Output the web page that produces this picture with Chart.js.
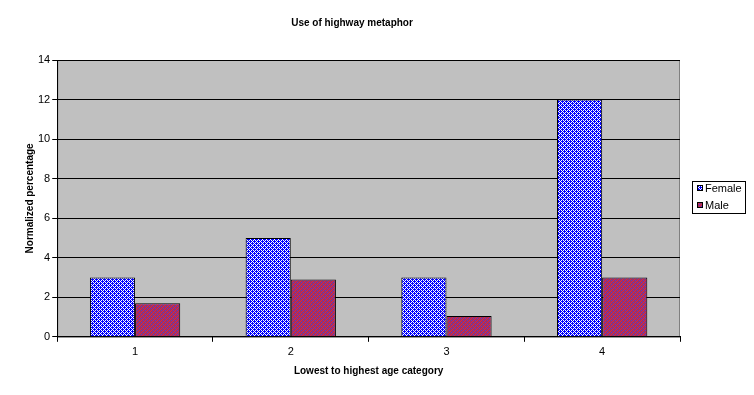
<!DOCTYPE html>
<html>
<head>
<meta charset="utf-8">
<script src="https://cdn.jsdelivr.net/npm/chart.js@4"></script>
<style>
  html, body { margin: 0; padding: 0; background: #fff; }
  #wrap { width: 754px; height: 395px; }
</style>
</head>
<body>
<div id="wrap"><canvas id="chart" width="754" height="395"></canvas></div>
<script>
const categories = ['1', '2', '3', '4'];
const femaleValues = [3, 5, 3, 12];
const maleValues = [1.7, 2.9, 1.05, 3];

const FONT = 'Liberation Sans, Arial, sans-serif';

// small tiles that imitate the old dithered fills
function makePattern(rows, colors) {
    const c = document.createElement('canvas');
    c.width = rows[0].length;
    c.height = rows.length;
    const g = c.getContext('2d');
    rows.forEach((row, y) => {
        for (let x = 0; x < row.length; x++) {
            g.fillStyle = colors[row[x]];
            g.fillRect(x, y, 1, 1);
        }
    });
    return g.createPattern(c, 'repeat');
}

const femaleFill = makePattern(
    ['bwbw', 'wbbb', 'bwbw', 'bbwb'],
    { b: '#0000ff', w: '#ffffff' }
);
const maleFill = makePattern(
    ['mrmb', 'rmmm', 'mbmr', 'mmrm'],
    { m: '#993366', r: '#dd2244', b: '#6633cc' }
);

const plotBackground = {
    id: 'plotBackground',
    beforeDraw(chart) {
        const { ctx, chartArea: a } = chart;
        ctx.save();
        ctx.fillStyle = '#c0c0c0';
        ctx.fillRect(a.left, a.top, a.right - a.left, a.bottom - a.top);
        ctx.strokeStyle = '#808080';
        ctx.lineWidth = 1;
        ctx.strokeRect(a.left + 0.5, a.top + 0.5, a.right - a.left - 1, a.bottom - a.top);
        ctx.restore();
    }
};

// boxed legend on the right, like the spreadsheet original
const boxedLegend = {
    id: 'boxedLegend',
    afterDraw(chart) {
        const ctx = chart.ctx;
        const x = 692, y = 181, w = 53, h = 32;
        ctx.save();
        ctx.fillStyle = '#fff';
        ctx.fillRect(x, y, w, h);
        ctx.strokeStyle = '#000';
        ctx.lineWidth = 1;
        ctx.strokeRect(x + 0.5, y + 0.5, w, h);
        ctx.font = '11px ' + FONT;
        ctx.textBaseline = 'middle';
        chart.data.datasets.forEach((ds, i) => {
            const cy = y + 7 + i * 17;
            ctx.fillStyle = ds.backgroundColor;
            ctx.fillRect(697, cy - 3, 6, 6);
            ctx.strokeStyle = '#000';
            ctx.strokeRect(697.5, cy - 2.5, 5, 5);
            ctx.fillStyle = '#000';
            ctx.fillText(ds.label, 705, cy + 0.5);
        });
        ctx.restore();
    }
};

const ctx = document.getElementById('chart').getContext('2d');
new Chart(ctx, {
    type: 'bar',
    data: {
        labels: categories,
        datasets: [
            {
                label: 'Female',
                data: femaleValues,
                backgroundColor: femaleFill,
                borderColor: '#000000',
                borderWidth: 1
            },
            {
                label: 'Male',
                data: maleValues,
                backgroundColor: maleFill,
                borderColor: '#000000',
                borderWidth: 1
            }
        ]
    },
    options: {
        responsive: false,
        animation: false,
        categoryPercentage: 0.58,
        barPercentage: 1.0,
        layout: { padding: { left: 24, right: 74, top: 10, bottom: 18 } },
        plugins: {
            title: {
                display: true,
                text: 'Use of highway metaphor',
                font: { size: 10, family: FONT, weight: 'bold' },
                color: '#000',
                padding: { top: 7, bottom: 31 }
            },
            legend: { display: false },
            tooltip: { enabled: false }
        },
        scales: {
            x: {
                grid: {
                    drawOnChartArea: false,
                    drawTicks: true,
                    tickLength: 5,
                    color: '#000'
                },
                border: { color: '#000' },
                ticks: {
                    color: '#000',
                    padding: 4,
                    font: { size: 11, family: FONT }
                },
                title: {
                    display: true,
                    text: 'Lowest to highest age category',
                    color: '#000',
                    font: { size: 10, family: FONT, weight: 'bold' },
                    padding: { top: 2, bottom: 0 }
                }
            },
            y: {
                min: 0,
                max: 14,
                ticks: {
                    stepSize: 2,
                    color: '#000',
                    padding: 2,
                    font: { size: 11, family: FONT }
                },
                grid: {
                    color: '#000',
                    tickLength: 5
                },
                border: { color: '#000' },
                title: {
                    display: true,
                    text: 'Normalized percentage',
                    color: '#000',
                    font: { size: 10, family: FONT, weight: 'bold' },
                    padding: { top: 0, bottom: 0 }
                }
            }
        }
    },
    plugins: [plotBackground, boxedLegend]
});
</script>
</body>
</html>
